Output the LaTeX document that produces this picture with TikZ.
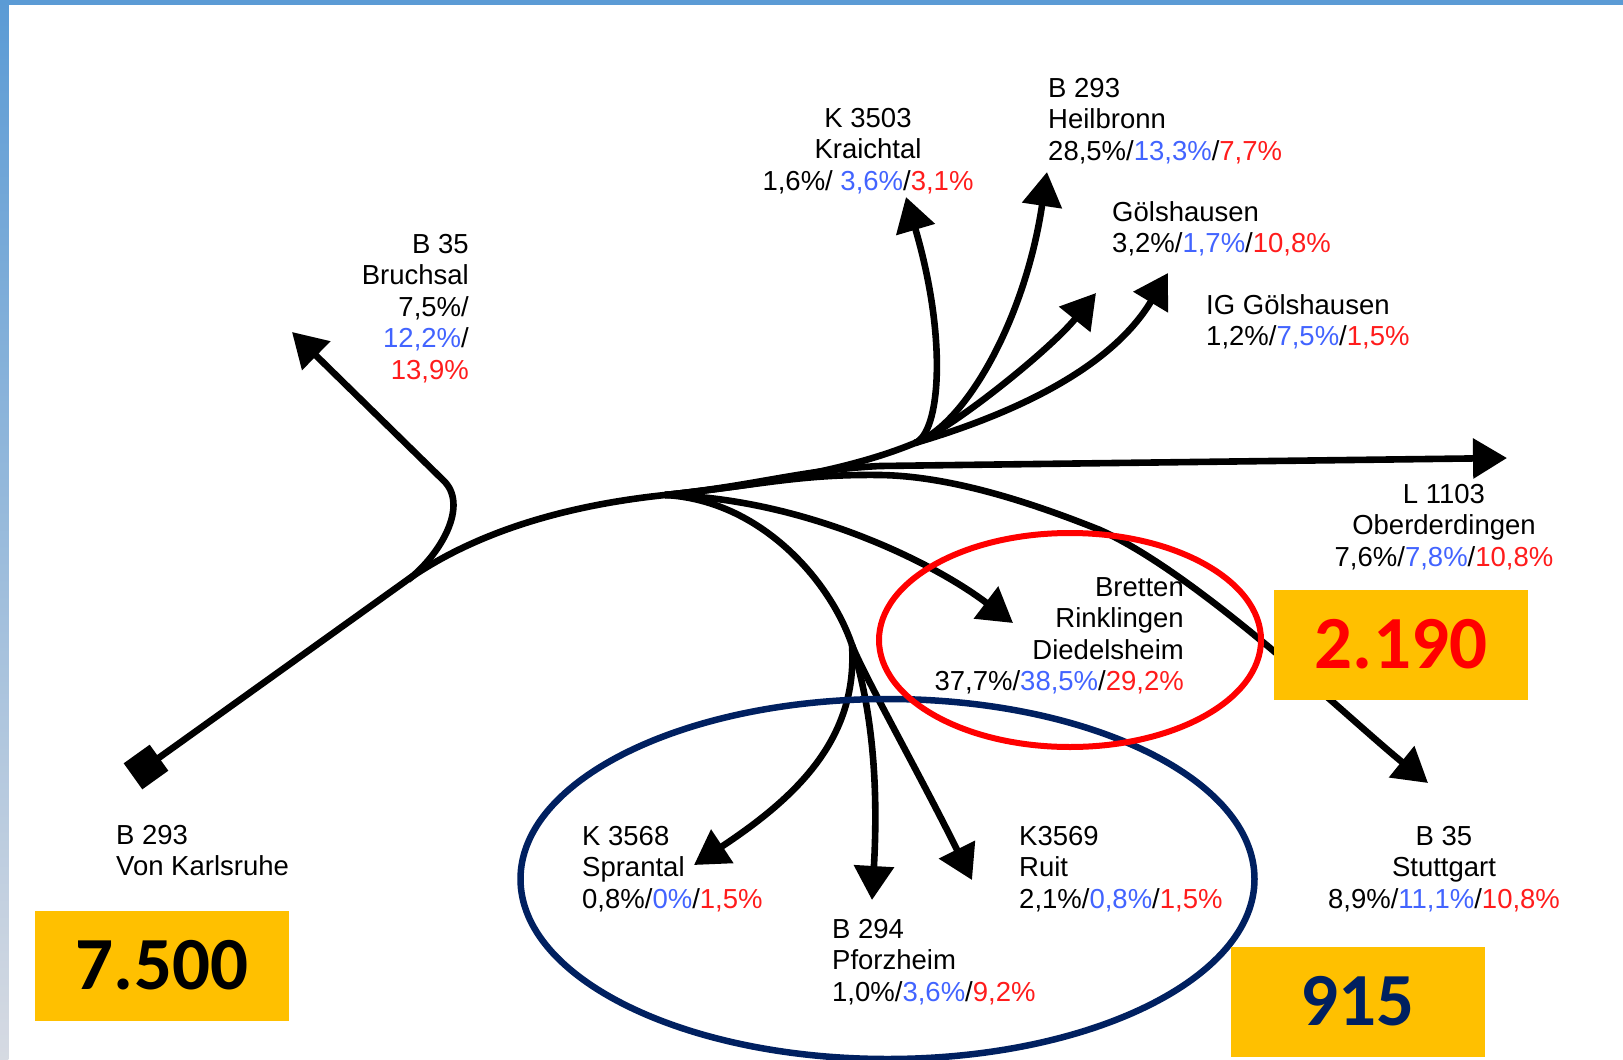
\documentclass[tikz,border=0pt]{standalone}
\usepackage{fontspec}
\setmainfont{Liberation Sans}
\newfontfamily\numfont{Carlito}
\usetikzlibrary{arrows.meta}
\definecolor{pblue}{RGB}{66,100,255}
\definecolor{pred}{RGB}{255,28,28}
\definecolor{boxyel}{RGB}{255,192,0}
\definecolor{navyc}{RGB}{0,32,96}
\definecolor{ringred}{RGB}{255,0,0}
\definecolor{frameblue}{RGB}{91,155,213}
\definecolor{framegrey}{RGB}{214,218,226}
\newcommand\cblu[1]{\textcolor{pblue}{#1}}
\newcommand\cred[1]{\textcolor{pred}{#1}}
\newcommand\labl[1]{\begin{tabular}[t]{@{}l@{}}#1\end{tabular}}
\newcommand\labr[1]{\begin{tabular}[t]{@{}r@{}}#1\end{tabular}}
\newcommand\labc[1]{\begin{tabular}[t]{@{}c@{}}#1\end{tabular}}
\begin{document}
\begin{tikzpicture}[x=1pt,y=-1pt,
  lbl/.style={inner sep=0pt, font=\fontsize{27.5}{31.6}\selectfont},
  roadline/.style={line width=6.6pt, line join=round},
  flow/.style={roadline, -{Triangle[length=34pt,width=39pt]}},
  numbox/.style={fill=boxyel, minimum width=254pt, minimum height=110pt, inner sep=0pt,
    text height=47pt, text depth=0pt, font=\numfont\bfseries\fontsize{75}{75}\selectfont},
  ring/.style={line width=6.5pt}]
\useasboundingbox (0,0) rectangle (1623,1060);
\fill[white] (0,0) rectangle (1623,1060);
% frame
\fill[frameblue] (0,0) rectangle (1623,4.6);
\shade[top color=frameblue, bottom color=framegrey] (0,0) rectangle (8.4,1060);

% labels
\node[lbl, anchor=base east] (bru) at (469,253) {\labr{B 35\\Bruchsal\\7,5\%/\\\cblu{12,2\%}/\\\cred{13,9\%}}};
\node[lbl, anchor=base] (kra) at (868,127) {\labc{K 3503\\Kraichtal\\1,6\%/ \cblu{3,6\%}/\cred{3,1\%}}};
\node[lbl, anchor=base west] (hei) at (1048,97) {\labl{B 293\\Heilbronn\\28,5\%/\cblu{13,3\%}/\cred{7,7\%}}};
\node[lbl, anchor=base west] (goe) at (1112,221) {\labl{Gölshausen\\3,2\%/\cblu{1,7\%}/\cred{10,8\%}}};
\node[lbl, anchor=base west] (igg) at (1206,314) {\labl{IG Gölshausen\\1,2\%/\cblu{7,5\%}/\cred{1,5\%}}};
\node[lbl, anchor=base] (obe) at (1444,503) {\labc{L 1103\\Oberderdingen\\7,6\%/\cblu{7,8\%}/\cred{10,8\%}}};
\node[lbl, anchor=base east] (bre) at (1184,596) {\labr{Bretten\\Rinklingen\\Diedelsheim\\37,7\%/\cblu{38,5\%}/\cred{29,2\%}}};
\node[lbl, anchor=base] (stu) at (1444,845) {\labc{B 35\\Stuttgart\\8,9\%/\cblu{11,1\%}/\cred{10,8\%}}};
\node[lbl, anchor=base west] (kar) at (116,844) {\labl{B 293\\Von Karlsruhe}};
\node[lbl, anchor=base west] (spr) at (582,845) {\labl{K 3568\\Sprantal\\0,8\%/\cblu{0\%}/\cred{1,5\%}}};
\node[lbl, anchor=base west] (pfo) at (832,938) {\labl{B 294\\Pforzheim\\1,0\%/\cblu{3,6\%}/\cred{9,2\%}}};
\node[lbl, anchor=base west] (rui) at (1019,845) {\labl{K3569\\Ruit\\2,1\%/\cblu{0,8\%}/\cred{1,5\%}}};

% junctions and ends
\node[fill=black, minimum size=32pt, inner sep=0pt, rotate=35.6] (src) at (146,767) {};
\coordinate (j1) at (410,578);
\coordinate (jb) at (408,580);
\coordinate (j2) at (665,495);
\coordinate (hub) at (915,443);
\coordinate (jl) at (852,645);
\coordinate (tBru) at (292,332);
\coordinate (tKra) at (906,197);
\coordinate (tHei) at (1047,172);
\coordinate (tGoe) at (1096,293);
\coordinate (tIgg) at (1168,273);
\coordinate (tObe) at (1507,458);
\coordinate (tStu) at (1428,783);
\coordinate (tBre) at (1013,623);
\coordinate (tSpr) at (694,865);
\coordinate (tPfo) at (872,900);
\coordinate (tRui) at (972,880);

% trunk
\draw[roadline] (src.center) -- (j1) .. controls (480,530) and (570,505) .. (j2)
  .. controls (760,485) and (850,470) .. (hub);
% Bruchsal
\draw[flow] (jb) .. controls (440,555) and (470,505) .. (443,480) -- (tBru);
% upper fan
\draw[flow] (hub) .. controls (940,433) and (948,340) .. (tKra);
\draw[flow] (hub) .. controls (965,425) and (1025,320) .. (tHei);
\draw[flow] (hub) .. controls (950,430) and (1050,350) .. (tGoe);
\draw[flow] (hub) .. controls (1010,415) and (1110,370) .. (tIgg);
% L 1103
\draw[flow] (j2) .. controls (760,485) and (800,470) .. (880,466) -- (tObe);
% Stuttgart
\draw[flow] (j2) .. controls (760,485) and (800,474) .. (880,475)
  .. controls (950,476) and (1030,502) .. (1100,530)
  .. controls (1200,575) and (1350,720) .. (tStu);
% Bretten
\draw[flow] (j2) .. controls (800,498) and (930,560) .. (tBre);
% lower bundle
\draw[roadline] (j2) .. controls (760,500) and (830,580) .. (jl);
\draw[flow] (jl) .. controls (858,740) and (795,798) .. (tSpr);
\draw[flow] (jl) .. controls (866,690) and (880,760) .. (tPfo);
\draw[flow] (jl) .. controls (862,672) and (920,775) .. (tRui);

% rings
\draw[ring, navyc] (887.5,879) ellipse [x radius=367pt, y radius=180pt];
\draw[ring, ringred, line width=6pt] (1070,640) ellipse [x radius=191pt, y radius=107pt];

% number boxes
\node[numbox] (n7500) at (162,966) {7.500};
\node[numbox, text=ringred] (n2190) at (1401,644.5) {2.190};
\node[numbox, text=navyc] (n915) at (1357.5,1002) {915};
\end{tikzpicture}
\end{document}
